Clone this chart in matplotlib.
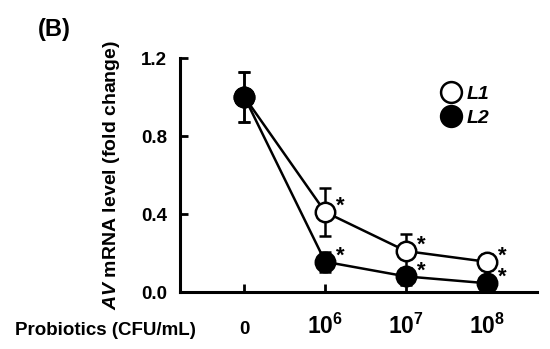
import numpy as np
import matplotlib
matplotlib.use('Agg')
import matplotlib.pyplot as plt
from matplotlib.lines import Line2D

plt.rcParams['font.family'] = ['Liberation Sans', 'DejaVu Sans']
plt.rcParams['font.weight'] = 'bold'
plt.rcParams['mathtext.fontset'] = 'custom'
plt.rcParams['mathtext.rm'] = 'Liberation Sans:bold'
plt.rcParams['mathtext.bf'] = 'Liberation Sans:bold'
plt.rcParams['mathtext.it'] = 'Liberation Sans:italic:bold'

# data
doses = ['0', '$\\mathbf{10^{6}}$', '$\\mathbf{10^{7}}$', '$\\mathbf{10^{8}}$']
l1_mean = [1.00, 0.41, 0.21, 0.155]
l1_err = [0.13, 0.125, 0.09, 0.04]
l2_mean = [1.00, 0.155, 0.08, 0.045]
l2_err = [0.13, 0.05, 0.045, 0.02]
l1_sig = [False, True, True, True]
l2_sig = [False, True, True, True]

x = np.arange(len(doses))

fig = plt.figure(figsize=(5.5, 3.49), dpi=100)
ax = fig.add_axes([0.327, 0.1633, 0.649, 0.6705])

lw = 1.8
ax.errorbar(x, l1_mean, yerr=l1_err, color='black', lw=lw, capsize=4.2,
            capthick=lw, elinewidth=lw, marker='o', ms=14, mfc='white',
            mec='black', mew=lw, zorder=3)
ax.errorbar(x, l2_mean, yerr=l2_err, color='black', lw=lw, capsize=4.2,
            capthick=lw, elinewidth=lw, marker='o', ms=14, mfc='black',
            mec='black', mew=lw, zorder=4)

for means, sig in [(l1_mean, l1_sig), (l2_mean, l2_sig)]:
    for xi, yi, s in zip(x, means, sig):
        if s:
            ax.annotate('*', (xi, yi), xytext=(8, 4), textcoords='offset points',
                        fontsize=16, fontweight='bold', ha='left', va='center')

ax.set_xlim(-0.8, 3.62)
ax.set_ylim(0, 1.2)
ax.set_yticks([0.0, 0.4, 0.8, 1.2])
ax.set_yticklabels(['0.0', '0.4', '0.8', '1.2'])
ax.set_xticks(x)
ax.set_xticklabels(doses)
ax.tick_params(direction='in', length=6, width=2, labelsize=13.5, pad=9)
ax.tick_params(axis='x', pad=30)
for i, lab in enumerate(ax.get_xticklabels()):
    lab.set_va('baseline')
    if i > 0:
        lab.set_fontsize(16.5)
for lab in ax.get_xticklabels() + ax.get_yticklabels():
    lab.set_fontweight('bold')

for side in ['top', 'right']:
    ax.spines[side].set_visible(False)
for side in ['left', 'bottom']:
    ax.spines[side].set_linewidth(2.2)

ax.set_ylabel('$\\mathit{AV}$ mRNA level (fold change)', fontsize=14,
              fontweight='bold', labelpad=14)

handles = [Line2D([], [], ls='none', marker='o', ms=15, mfc='white', mec='black', mew=lw),
           Line2D([], [], ls='none', marker='o', ms=15, mfc='black', mec='black', mew=lw)]
leg = ax.legend(handles, ['L1', 'L2'], loc='center left',
                bbox_to_anchor=(0.683, 0.795), frameon=False,
                fontsize=14, handletextpad=0.3, labelspacing=0.35,
                handlelength=1.0)
for t in leg.get_texts():
    t.set_fontstyle('italic')
    t.set_fontweight('bold')

fig.text(0.027, 0.040, 'Probiotics (CFU/mL)', fontsize=13.5, fontweight='bold',
         ha='left', va='baseline')
fig.text(0.068, 0.915, '(B)', fontsize=17, fontweight='bold', ha='left', va='center')

fig.savefig('out.png', dpi=100)
